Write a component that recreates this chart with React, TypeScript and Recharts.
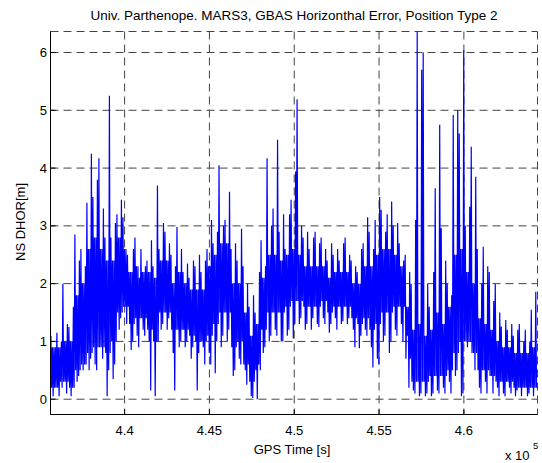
import { LineChart, Line, XAxis, YAxis, CartesianGrid } from 'recharts';

// GPS time of the first bin and the bin width, in seconds
const firstBinTime = 435632;
const binSeconds = 177;

// upper and lower extremes of the error trace in each time bin [m]
const peak = [
  1.1, 0.9, 1.15, 1.0, 2.0, 1.3, 1.25, 1.6, 2.85, 2.4,
  2.6, 2.3, 3.4, 4.25, 3.5, 3.8, 4.17, 3.3, 2.8, 5.25,
  2.8, 3.05, 3.2, 3.45, 3.15, 2.5, 2.2, 2.6, 2.8, 2.1,
  2.6, 2.3, 2.4, 2.75, 2.3, 3.7, 2.6, 3.05, 2.9, 2.7,
  2.5, 2.3, 2.98, 2.6, 2.2, 2.35, 2.1, 2.4, 2.3, 2.5,
  2.2, 2.4, 2.6, 3.1, 2.7, 2.9, 4.05, 3.0, 3.1, 3.59,
  2.6, 2.7, 2.4, 2.95, 2.3, 2.0, 1.6, 1.8, 1.5, 2.2,
  2.75, 2.3, 4.17, 3.0, 3.3, 4.49, 2.9, 3.2, 2.6, 3.2,
  3.45, 3.94, 5.19, 3.0, 2.8, 2.9, 2.6, 2.8, 2.9, 2.7,
  2.8, 2.6, 2.4, 2.7, 2.5, 2.6, 2.4, 2.7, 2.8, 2.5,
  2.4, 2.3, 2.2, 2.6, 2.7, 3.15, 2.9, 2.6, 3.1, 3.5,
  3.28, 2.9, 3.2, 3.42, 3.0, 3.05, 2.7, 2.4, 2.5, 2.2,
  2.0, 3.1, 6.36, 5.7, 6.0, 2.0, 1.6, 2.2, 3.65, 4.75,
  2.96, 2.4, 2.0, 1.8, 4.92, 5.0, 4.6, 6.04, 3.0, 3.33,
  4.37, 3.85, 2.6, 2.0, 2.64, 2.3, 2.2, 1.7, 2.0, 1.5,
  1.26, 1.37, 1.2, 1.3, 1.1, 1.2, 1.3, 1.0, 1.2, 1.0,
  1.55, 1.86,
];
const trough = [
  0.05, 0.2, 0.05, 0.3, 0.3, 0.1, 0.05, 0.2, 0.3, 0.4,
  0.5, 0.6, 0.5, 0.7, 0.6, 0.5, 0.9, 0.7, 0.05, 0.5,
  0.35, 0.6, 1.2, 1.4, 1.6, 1.3, 0.85, 1.0, 1.1, 0.9,
  1.2, 1.1, 1.0, 0.15, 0.05, 1.0, 1.2, 1.3, 1.2, 1.4,
  0.8, 0.15, 0.9, 1.0, 0.9, 1.0, 0.7, 0.9, 0.15, 0.8,
  0.9, 0.6, 0.8, 0.6, 0.45, 1.0, 0.9, 1.1, 1.0, 1.2,
  0.4, 0.5, 0.7, 0.6, 0.5, 0.25, 0.05, 0.02, 0.0, 0.6,
  0.8, 0.9, 1.0, 1.1, 1.2, 1.1, 1.0, 1.0, 1.1, 1.2,
  1.05, 1.3, 1.3, 1.4, 1.2, 1.3, 1.2, 1.4, 1.3, 1.25,
  1.4, 1.3, 1.15, 1.3, 1.4, 1.2, 1.3, 1.35, 1.3, 1.4,
  1.2, 0.9, 0.88, 1.1, 1.2, 1.1, 0.9, 0.55, 0.7, 0.6,
  1.0, 1.1, 0.8, 1.0, 1.2, 1.1, 1.3, 1.0, 1.1, 0.2,
  0.15, 0.1, 0.05, 0.1, 0.05, 0.1, 0.05, 0.1, 0.15, 0.1,
  0.2, 0.1, 0.3, 0.1, 0.4, 0.5, 0.05, 0.1, 0.9, 1.0,
  0.8, 0.5, 0.2, 0.1, 0.3, 0.1, 0.4, 0.1, 0.2, 0.05,
  0.1, 0.05, 0.2, 0.1, 0.05, 0.15, 0.05, 0.2, 0.05, 0.1,
  0.05, 0.2,
];

// dense core of the trace, one value per two bins [m]
const coreHigh = [
  0.9, 0.9, 1.0, 1.0, 1.8, 2.0, 2.6, 2.8, 2.6, 2.4,
  2.4, 2.8, 2.6, 2.2, 2.3, 2.2, 2.2, 2.1, 2.4, 2.4,
  2.0, 2.2, 2.0, 1.9, 1.9, 1.9, 2.3, 2.5, 2.7, 2.7,
  2.0, 2.0, 1.5, 1.1, 1.3, 2.1, 2.5, 2.5, 2.4, 2.5,
  2.6, 2.5, 2.3, 2.3, 2.3, 2.3, 2.1, 2.2, 2.2, 2.2,
  2.0, 2.0, 2.3, 2.3, 2.5, 2.6, 2.6, 2.5, 2.3, 1.6,
  1.2, 1.3, 1.1, 1.2, 1.5, 1.3, 1.6, 2.5, 2.6, 2.2,
  2.0, 1.4, 1.3, 1.2, 1.0, 0.9, 0.9, 0.8, 0.8, 0.8,
  0.9,
];
const coreLow = [
  0.2, 0.2, 0.3, 0.2, 0.5, 0.6, 0.8, 0.9, 0.9, 0.8,
  1.0, 1.5, 1.6, 1.3, 1.4, 1.4, 1.2, 1.0, 1.5, 1.5,
  1.2, 1.2, 1.2, 1.1, 1.0, 1.0, 1.1, 1.3, 1.5, 1.5,
  0.9, 1.0, 0.6, 0.3, 0.5, 1.2, 1.5, 1.5, 1.5, 1.6,
  1.7, 1.7, 1.6, 1.6, 1.6, 1.7, 1.5, 1.6, 1.6, 1.6,
  1.4, 1.3, 1.4, 1.2, 1.3, 1.5, 1.5, 1.6, 1.6, 0.7,
  0.3, 0.3, 0.3, 0.4, 0.4, 0.4, 0.5, 0.8, 1.0, 1.0,
  0.8, 0.5, 0.5, 0.4, 0.3, 0.3, 0.3, 0.2, 0.2, 0.2,
  0.2,
];

const timeTicks = [440000, 445000, 450000, 455000, 460000];
const errorTicks = [0, 1, 2, 3, 4, 5, 6];

const data: { t: number; v: number }[] = [];
peak.forEach((p, i) => {
  const t = firstBinTime + i * binSeconds;
  const hi = coreHigh[Math.floor(i / 2)];
  const lo = coreLow[Math.floor(i / 2)];
  const order = i % 2 === 0 ? [p, lo, hi, trough[i]] : [hi, trough[i], p, lo];
  order.forEach((v, k) => data.push({ t: t + 22 + k * 44, v }));
});

const font = '"Liberation Sans", Arial, Helvetica, sans-serif';
const tickStyle = { fill: '#000', fontSize: 13, fontFamily: font };
const xDomain = [435632, 464340];
const yDomain = [-0.265, 6.364];

const App = () => {
  return (
    <div
      style={{
        position: 'absolute',
        left: 0,
        top: 0,
        width: 542,
        height: 463,
        background: '#fff',
      }}
    >
      <LineChart
        width={542}
        height={463}
        data={data}
        margin={{ top: 31.5, right: 4.5, bottom: 18.5, left: 0.5 }}
      >
        <CartesianGrid stroke='#444' strokeDasharray='8 5' />
        <XAxis
          dataKey='t'
          type='number'
          domain={xDomain}
          allowDataOverflow
          ticks={timeTicks}
          tickFormatter={(v: number) => String(v / 1e5)}
          height={30}
          tickSize={-5}
          tickMargin={16}
          stroke='#000'
          tick={tickStyle}
        />
        <XAxis
          xAxisId='top'
          orientation='top'
          dataKey='t'
          type='number'
          domain={xDomain}
          allowDataOverflow
          ticks={timeTicks}
          tickFormatter={() => ''}
          height={0}
          tickSize={-5}
          stroke='#000'
        />
        <YAxis
          type='number'
          domain={yDomain}
          allowDataOverflow
          ticks={errorTicks}
          width={50}
          tickSize={-5}
          tickMargin={8.5}
          stroke='#000'
          tick={tickStyle}
        />
        <YAxis
          yAxisId='right'
          orientation='right'
          type='number'
          domain={yDomain}
          allowDataOverflow
          ticks={errorTicks}
          tickFormatter={() => ''}
          width={0}
          tickSize={-5}
          stroke='#000'
        />
        <Line
          type='linear'
          dataKey='v'
          stroke='#0000ff'
          strokeWidth={1.2}
          dot={false}
          isAnimationActive={false}
        />
      </LineChart>
      <svg
        width={542}
        height={463}
        style={{ position: 'absolute', left: 0, top: 0, pointerEvents: 'none' }}
        fontFamily={font}
      >
        <text x={294} y={20} textAnchor='middle' fontSize={13.5} fill='#000'>
          Univ. Parthenope. MARS3, GBAS Horizonthal Error, Position Type 2
        </text>
        <text x={292} y={454} textAnchor='middle' fontSize={13} fill='#000'>
          GPS Time [s]
        </text>
        <text
          x={24.5}
          y={222}
          textAnchor='middle'
          fontSize={13}
          fill='#000'
          transform='rotate(-90 24.5 222)'
        >
          NS DHOR[m]
        </text>
        <text x={505} y={459.5} fontSize={13} fill='#000'>
          x 10
        </text>
        <text x={533} y={449} fontSize={9.5} fill='#000'>
          5
        </text>
      </svg>
    </div>
  );
};

export default App;
